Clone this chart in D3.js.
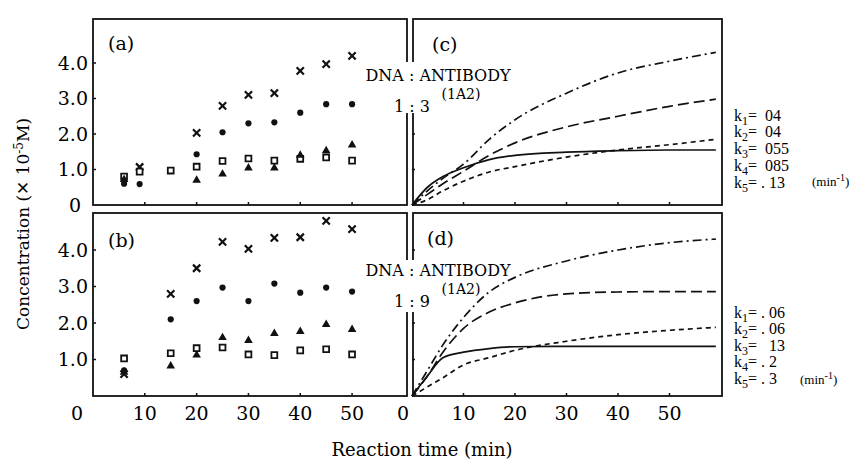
<!DOCTYPE html>
<html>
<head>
<meta charset="utf-8">
<script src="https://cdn.jsdelivr.net/npm/d3@7"></script>
<style>
  body { margin: 0; background: #fff; }
  svg { font-family: 'DejaVu Serif', serif; }
  .times { font-family: 'Liberation Serif', serif; white-space: pre; }
</style>
</head>
<body>
<svg id="chart" width="858" height="468"></svg>
<script>
// measured points, top (a) and bottom (b)
const timesA = [6, 9, 15, 20, 25, 30, 35, 40, 45, 50];
const crossA = [null, 1.07, null, 2.03, 2.79, 3.1, 3.15, 3.78, 3.97, 4.2];
const circleA = [0.6, 0.59, 0.97, 1.43, 2.05, 2.3, 2.33, 2.6, 2.84, 2.84];
const squareA = [0.8, 0.94, 0.97, 1.08, 1.24, 1.31, 1.25, 1.3, 1.34, 1.25];
const triangleA = [0.72, null, null, 0.7, 0.87, 1.04, 1.04, 1.4, 1.53, 1.69];

const timesB = [6, 15, 20, 25, 30, 35, 40, 45, 50];
const crossB = [0.6, 2.8, 3.5, 4.22, 4.03, 4.33, 4.35, 4.8, 4.57];
const circleB = [0.7, 2.1, 2.6, 2.97, 2.6, 3.08, 2.83, 2.97, 2.86];
const squareB = [1.03, 1.17, 1.31, 1.33, 1.14, 1.12, 1.25, 1.28, 1.14];
const triangleB = [0.65, 0.82, 1.12, 1.6, 1.52, 1.71, 1.77, 1.96, 1.82];

// simulated curves, (c) and (d)
const curveT = [0, 3, 6, 10, 15, 20, 30, 40, 50, 59];
const dashDotC = [0, 0.4, 0.75, 1.15, 1.85, 2.4, 3.15, 3.72, 4.05, 4.3];
const longDashC = [0, 0.3, 0.6, 0.95, 1.4, 1.75, 2.2, 2.5, 2.78, 2.98];
const shortDashC = [0, 0.15, 0.4, 0.67, 0.93, 1.08, 1.35, 1.55, 1.7, 1.85];
const solidC = [0, 0.5, 0.8, 1.05, 1.28, 1.4, 1.49, 1.53, 1.55, 1.55];

const dashDotD = [0, 0.7, 1.4, 2.15, 2.85, 3.25, 3.7, 4.0, 4.2, 4.3];
const longDashD = [0, 0.55, 1.2, 1.85, 2.3, 2.55, 2.8, 2.85, 2.86, 2.86];
const shortDashD = [0, 0.25, 0.5, 0.85, 1.05, 1.25, 1.5, 1.68, 1.8, 1.88];
const solidD = [0, 0.55, 1.05, 1.2, 1.3, 1.35, 1.36, 1.36, 1.36, 1.36];

const yTicks = [1, 2, 3, 4];
const xTicks = [10, 20, 30, 40, 50];
const kLabelsC = ['  04', '  04', '  055', '  085', ' . 13'];
const kLabelsD = [' . 06', ' . 06', '   13', ' . 2', ' . 3'];

const svg = d3.select('#chart');

const rows = [
  { top: 19, bottom: 205 },
  { top: 213, bottom: 396 },
];
const yScales = [
  d3.scaleLinear().domain([0, 4]).range([205, 63]),
  d3.scaleLinear().domain([0, 4]).range([396, 250]),
];
const xLeft = d3.scaleLinear().domain([0, 60.6]).range([93, 407]);
const xRight = d3.scaleLinear().domain([0, 60]).range([412, 721]);

const drawBox = (x0, x1, row) => {
  svg.append('rect')
    .attr('x', x0)
    .attr('y', row.top)
    .attr('width', x1 - x0)
    .attr('height', row.bottom - row.top)
    .attr('fill', 'none')
    .attr('stroke', '#111')
    .attr('stroke-width', 1.8);
};

const drawTicks = (x, y, row) => {
  const g = svg.append('g');
  g.selectAll('.xt')
    .data(xTicks)
    .enter()
    .append('line')
    .attr('x1', d => x(d))
    .attr('x2', d => x(d))
    .attr('y1', row.bottom)
    .attr('y2', row.bottom - 3)
    .attr('stroke', '#111')
    .attr('stroke-width', 1.5);
  g.selectAll('.yt')
    .data(yTicks)
    .enter()
    .append('line')
    .attr('x1', x.range()[0])
    .attr('x2', x.range()[0] + 3)
    .attr('y1', d => y(d))
    .attr('y2', d => y(d))
    .attr('stroke', '#111')
    .attr('stroke-width', 1.5);
};

rows.forEach((row, i) => {
  drawBox(93, 407, row);
  drawBox(413, 722, row);
  drawTicks(xLeft, yScales[i], row);
  drawTicks(xRight, yScales[i], row);
});

// y tick labels on left panels
rows.forEach((row, i) => {
  svg.append('g')
    .selectAll('text')
    .data(yTicks)
    .enter()
    .append('text')
    .attr('x', 88)
    .attr('y', d => yScales[i](d))
    .attr('dy', '0.36em')
    .attr('text-anchor', 'end')
    .attr('font-size', 19)
    .text(d => d.toFixed(1));
});
svg.append('text')
  .attr('x', 75).attr('y', 205).attr('dy', '0.36em')
  .attr('text-anchor', 'middle').attr('font-size', 19).text('0');

// x tick labels along the bottom
[xLeft, xRight].forEach((x) => {
  svg.append('g')
    .selectAll('text')
    .data(xTicks)
    .enter()
    .append('text')
    .attr('x', d => x(d))
    .attr('y', 413)
    .attr('dy', '0.36em')
    .attr('text-anchor', 'middle')
    .attr('font-size', 19)
    .text(d => d);
});
svg.append('text').attr('x', 77).attr('y', 413).attr('dy', '0.36em')
  .attr('text-anchor', 'middle').attr('font-size', 19).text('0');
svg.append('text').attr('x', 403).attr('y', 413).attr('dy', '0.36em')
  .attr('text-anchor', 'middle').attr('font-size', 19).text('0');

// axis titles
svg.append('text')
  .attr('x', 422).attr('y', 450).attr('dy', '0.36em')
  .attr('text-anchor', 'middle')
  .attr('font-size', 18)
  .text('Reaction time (min)');

const yTitle = svg.append('text')
  .attr('transform', 'translate(29,224) rotate(-90)')
  .attr('text-anchor', 'middle')
  .attr('font-size', 17);
yTitle.append('tspan').text('Concentration (');
yTitle.append('tspan').attr('font-family', 'DejaVu Sans').attr('font-weight', 200).text('\u2715');
yTitle.append('tspan').text(' 10');
yTitle.append('tspan').attr('dy', -6).attr('font-size', 12).text('-5');
yTitle.append('tspan').attr('dy', 6).text('M)');

// panel letters
const panelLabels = [
  { t: '(a)', x: 108, y: 43 },
  { t: '(b)', x: 108, y: 240 },
  { t: '(c)', x: 432, y: 44 },
  { t: '(d)', x: 427, y: 238 },
];
svg.append('g')
  .selectAll('text')
  .data(panelLabels)
  .enter()
  .append('text')
  .attr('x', d => d.x)
  .attr('y', d => d.y)
  .attr('dy', '0.36em')
  .attr('font-size', 19)
  .text(d => d.t);

// ratio labels sitting across the gap
const ratioLabel = (cy, gapTop, gapBottom, ratio) => {
  svg.append('rect')
    .attr('x', 359).attr('y', gapTop)
    .attr('width', 158).attr('height', gapBottom - gapTop)
    .attr('fill', '#fff');
  svg.append('text')
    .attr('x', 438).attr('y', cy - 1).attr('dy', '0.36em')
    .attr('text-anchor', 'middle')
    .attr('font-size', 16)
    .text('DNA : ANTIBODY');
  svg.append('text')
    .attr('x', 461).attr('y', cy + 18).attr('dy', '0.36em')
    .attr('text-anchor', 'middle')
    .attr('font-size', 14)
    .text('(1A2)');
  svg.append('text')
    .attr('x', 412).attr('y', cy + 30).attr('dy', '0.36em')
    .attr('text-anchor', 'middle')
    .attr('font-size', 16)
    .text(ratio);
};
ratioLabel(76, 62, 113, '1 : 3');
ratioLabel(271, 260, 312, '1 : 9');

// markers
const markerSets = [
  { t: timesA, row: 0, series: [crossA, circleA, squareA, triangleA] },
  { t: timesB, row: 1, series: [crossB, circleB, squareB, triangleB] },
];
const symbols = [
  { type: d3.symbolX, size: 36, fill: 'none', stroke: '#111', sw: 2.2 },
  { type: d3.symbolCircle, size: 30, fill: '#111', stroke: 'none', sw: 0 },
  { type: d3.symbolSquare, size: 34, fill: '#fff', stroke: '#111', sw: 1.8 },
  { type: d3.symbolTriangle, size: 32, fill: '#111', stroke: 'none', sw: 0 },
];

markerSets.forEach((set) => {
  set.series.forEach((vals, si) => {
    const sym = symbols[si];
    const pts = set.t.map((t, i) => ({ t, v: vals[i] })).filter(d => d.v !== null);
    svg.append('g')
      .selectAll('path')
      .data(pts)
      .enter()
      .append('path')
      .attr('d', d3.symbol().type(sym.type).size(sym.size))
      .attr('transform', d => `translate(${xLeft(d.t)},${yScales[set.row](d.v)})`)
      .attr('fill', sym.fill)
      .attr('stroke', sym.stroke)
      .attr('stroke-width', sym.sw);
  });
});

// model curves
const dashes = ['9,4,2,4', '11,5', '5,4', null];
const curveSets = [
  { row: 0, series: [dashDotC, longDashC, shortDashC, solidC] },
  { row: 1, series: [dashDotD, longDashD, shortDashD, solidD] },
];
curveSets.forEach((set) => {
  const line = d3.line()
    .x(d => xRight(d.t))
    .y(d => yScales[set.row](d.v))
    .curve(d3.curveMonotoneX);
  set.series.forEach((vals, si) => {
    svg.append('path')
      .datum(curveT.map((t, i) => ({ t, v: vals[i] })))
      .attr('d', line)
      .attr('fill', 'none')
      .attr('stroke', '#111')
      .attr('stroke-width', 1.7)
      .attr('stroke-dasharray', dashes[si]);
  });
});

// rate constants
const kBlock = (labels, y0, step, unitX, unitY) => {
  labels.forEach((lab, i) => {
    const tx = svg.append('text')
      .attr('class', 'times')
      .attr('x', 734)
      .attr('y', y0 + i * step)
      .attr('dy', '0.36em')
      .attr('font-size', 16);
    tx.append('tspan').text('k');
    tx.append('tspan').attr('dy', 4).attr('font-size', 12).text(i + 1);
    tx.append('tspan').attr('dy', -4).text(`=${lab}`);
  });
  const u = svg.append('text')
    .attr('class', 'times')
    .attr('x', unitX)
    .attr('y', unitY)
    .attr('dy', '0.36em')
    .attr('font-size', 13);
  u.append('tspan').text('(min');
  u.append('tspan').attr('dy', -5).attr('font-size', 10).text('-1');
  u.append('tspan').attr('dy', 5).text(')');
};
kBlock(kLabelsC, 115, 16.7, 812, 181);
kBlock(kLabelsD, 312, 16.5, 800, 379);
</script>
</body>
</html>
